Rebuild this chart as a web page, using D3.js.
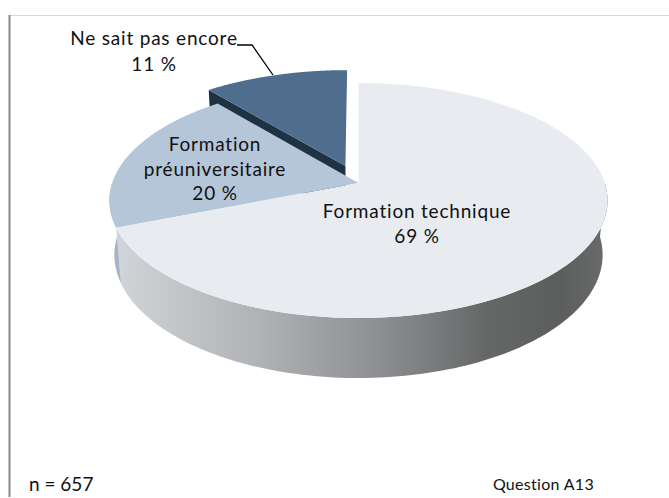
<!DOCTYPE html>
<html>
<head>
<meta charset="utf-8">
<script src="https://cdn.jsdelivr.net/npm/d3@7"></script>
<style>
  html, body { margin: 0; padding: 0; background: #ffffff; }
  svg { display: block; }
  text { font-family: Lato, "Open Sans", sans-serif; fill: #111; font-variant-ligatures: none; font-feature-settings: "liga" 0, "clig" 0; }
</style>
</head>
<body>
<svg id="chart" width="669" height="498"></svg>
<script>
// ---- data ----
const categories = ["Formation technique", "Formation préuniversitaire", "Ne sait pas encore"];
const values = [69, 20, 11];
const valueLabels = ["69 %", "20 %", "11 %"];
const sampleNote = "n = 657";
const questionNote = "Question A13";

// ---- styles / layout ----
const topColors = ["#e8ebf0", "#b5c6d8", "#4f6e8e"];
const cutColor = "#1f3244";
const exploded = [0, 0, 0.16];

const W = 669, H = 498;
const svg = d3.select("#chart");

// perspective projection of a tilted disk
const S = 0.4665, C = 0.8845, L = 5.94, F = 1463, CX = 358.5, CY = 183, DEPTH = 0.2523;
function proj(X, Zb, h) {
  const yc = Zb * S + h * C;
  const zc = L + Zb * C - h * S;
  return [CX + F * X / zc, CY - F * yc / zc];
}

const pie = d3.pie().sort(null).value(d => d)(values);
const line = d3.line();

function offsetOf(i) {
  const p = pie[i], mid = (p.startAngle + p.endAngle) / 2, d = exploded[i];
  return [Math.sin(mid) * d, Math.cos(mid) * d];
}
function arcPts(i, a0, a1, h, n) {
  const [ox, oz] = offsetOf(i);
  const pts = [];
  for (let k = 0; k <= n; k++) {
    const t = a0 + (a1 - a0) * k / n;
    pts.push(proj(ox + Math.sin(t), oz + Math.cos(t), h));
  }
  return pts;
}

// frame
svg.append("line").attr("x1", 9).attr("x2", W).attr("y1", 15.5).attr("y2", 15.5)
  .attr("stroke", "#d9d9d9").attr("stroke-width", 1);
svg.append("line").attr("x1", 9.5).attr("x2", 9.5).attr("y1", 15).attr("y2", 497)
  .attr("stroke", "#8a8a8a").attr("stroke-width", 2);

// gradients for side walls
const defs = svg.append("defs");
const g1 = defs.append("linearGradient").attr("id", "wallMain")
  .attr("gradientUnits", "userSpaceOnUse").attr("x1", 109).attr("x2", 609).attr("y1", 0).attr("y2", 0);
[[0, "#d3d6da"], [0.3, "#b0b2b5"], [0.55, "#8b8d90"], [0.75, "#666868"], [0.9, "#5c5e5d"], [1, "#6a6c6c"]]
  .forEach(([o, c]) => g1.append("stop").attr("offset", o).attr("stop-color", c));
const g2 = defs.append("linearGradient").attr("id", "wallPre")
  .attr("gradientUnits", "userSpaceOnUse").attr("x1", 109).attr("x2", 130).attr("y1", 0).attr("y2", 0);
[[0, "#9fb1c4"], [1, "#aebed0"]]
  .forEach(([o, c]) => g2.append("stop").attr("offset", o).attr("stop-color", c));
const wallFill = ["url(#wallMain)", "url(#wallPre)", null];

// side walls (front facing part only)
const visA = Math.PI / 2, visB = Math.PI * 1.5;
pie.forEach((p, i) => {
  if (!wallFill[i]) return;
  const a0 = Math.max(p.startAngle, visA), a1 = Math.min(p.endAngle, visB);
  if (a1 <= a0) return;
  const top = arcPts(i, a0, a1, 0, 120);
  const bot = arcPts(i, a1, a0, -DEPTH, 120);
  svg.append("path").attr("d", line(top.concat(bot)) + "Z").attr("fill", wallFill[i]);
});

// cut face of exploded slice (visible radial side)
{
  const i = 2, p = pie[i];
  const [ox, oz] = offsetOf(i);
  const t = p.startAngle;
  const pts = [proj(ox, oz, 0), proj(ox + Math.sin(t), oz + Math.cos(t), 0),
               proj(ox + Math.sin(t), oz + Math.cos(t), -DEPTH), proj(ox, oz, -DEPTH)];
  svg.append("path").attr("d", line(pts) + "Z").attr("fill", cutColor);
}

// top faces, back to front
[2, 1, 0].forEach(i => {
  const p = pie[i];
  const [ox, oz] = offsetOf(i);
  const pts = [proj(ox, oz, 0)].concat(arcPts(i, p.startAngle, p.endAngle, 0, 160));
  svg.append("path").attr("d", line(pts) + "Z").attr("fill", topColors[i]);
});

// labels
const fs = 19;
function label(lines, x, y0, dy) {
  const t = svg.append("text").attr("text-anchor", "middle").attr("font-size", fs)
    .attr("letter-spacing", 0.8);
  lines.forEach((s, k) => t.append("tspan").attr("x", x).attr("y", y0 + k * dy).text(s));
}
label([categories[0], valueLabels[0]], 417, 218, 25);
const preParts = categories[1].split(" ");
label([preParts[0], preParts[1], valueLabels[1]], 215, 151, 24.5);
label([categories[2], valueLabels[2]], 154, 45, 26);

// leader line
svg.append("path").attr("d", line([[237, 45], [252, 45], [273, 75]]))
  .attr("fill", "none").attr("stroke", "#000").attr("stroke-width", 1.3);

// notes
svg.append("text").attr("x", 29).attr("y", 491).attr("font-size", 19).text(sampleNote);
svg.append("text").attr("x", 594).attr("y", 490).attr("font-size", 16)
  .attr("letter-spacing", 0.3).attr("text-anchor", "end").text(questionNote);
</script>
</body>
</html>
